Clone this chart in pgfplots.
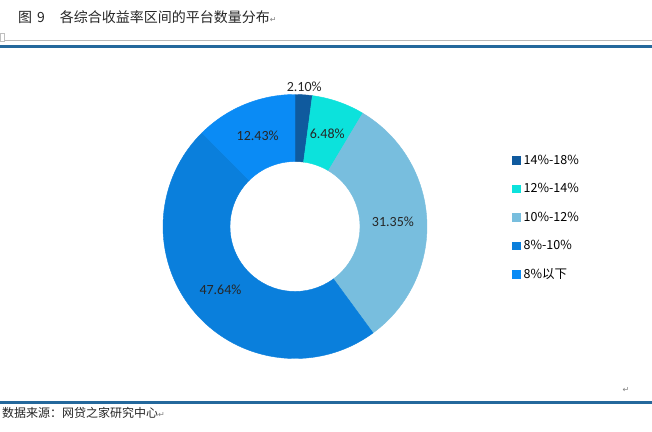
\documentclass[border=0pt]{standalone}
\usepackage{fontspec}
\setmainfont{Noto Sans CJK SC}
\newfontfamily\labelfont{Carlito}
\newfontfamily\symfont{DejaVu Sans}
\usepackage{pgfplots}
\pgfplotsset{compat=1.18}
\usepackage{pgfplotstable}

\definecolor{pie0}{HTML}{0F5A9E}
\definecolor{pie1}{HTML}{0CE2DC}
\definecolor{pie2}{HTML}{78BEDE}
\definecolor{pie3}{HTML}{0A7FDC}
\definecolor{pie4}{HTML}{0A8BF5}
\definecolor{rule}{HTML}{24689C}

% share of platforms per return band (%), start = cumulative share before the slice
\pgfplotstableread{
idx start value lr
0 0.00 2.10 140
1 2.10 6.48 98
2 8.58 31.35 98
3 39.93 47.64 98
4 87.57 12.43 98
}\piedata

\begin{document}
\begin{tikzpicture}
\fill[white] (0,0) rectangle (652bp,432bp);
\begin{axis}[
  at={(0,0)}, anchor=south west,
  scale only axis, width=652bp, height=432bp,
  xmin=0, xmax=652, ymin=0, ymax=432, y dir=reverse,
  hide axis, clip=false,
  legend style={at={(axis cs:512,154.5)}, anchor=north west, draw=none, fill=none,
    inner sep=0pt, row sep=16.5bp, font=\fontsize{12.5bp}{14bp}\selectfont,
    nodes={inner sep=0pt, text height=9.5bp, text depth=2.5bp},
    /tikz/every odd column/.append style={column sep=3bp}},
  legend cell align=left,
  legend image code/.code={\fill[#1] (0bp,-4.25bp) rectangle (8.5bp,4.25bp);},
]
% page decoration
\draw[gray!55, line width=0.8bp] (axis cs:4,40.5) -- (axis cs:652,40.5);
\draw[gray!50, line width=0.6bp] (axis cs:0,33) rectangle (axis cs:4,41);
\draw[rule, line width=2.2bp] (axis cs:0,46.5) -- (axis cs:652,46.5);
\draw[rule, line width=2.2bp] (axis cs:0,402.5) -- (axis cs:652,402.5);
\node[anchor=west, inner sep=0pt, font=\fontsize{14bp}{16bp}\selectfont, text=black!85]
  at (axis cs:18,17) {图\hspace{5bp}9\hspace{15bp}各综合收益率区间的平台数量分布{\color{gray}\symfont\fontsize{8bp}{9bp}\selectfont ↵}};
\node[anchor=west, inner sep=0pt, font=\fontsize{12bp}{14bp}\selectfont, text=black!85]
  at (axis cs:2,413) {数据来源：网贷之家研究中心{\color{gray}\symfont\fontsize{8bp}{9bp}\selectfont ↵}};
\node[inner sep=0pt, text=gray, font=\symfont\fontsize{8bp}{9bp}\selectfont] at (axis cs:626,390) {↵};

% donut slices
\addplot[forget plot, scatter, only marks, mark=text, text mark={},
  point meta=\thisrow{idx},
  visualization depends on={\thisrow{idx}\as\pidx},
  visualization depends on={\thisrow{start}\as\pstart},
  visualization depends on={\thisrow{value}\as\pval},
  visualization depends on={\thisrow{lr}\as\plr},
  scatter/@pre marker code/.code={
    \pgfmathtruncatemacro\ci{\pidx}
    \colorlet{slicecol}{pie\ci}
    \pgfmathsetmacro\aA{90-3.6*\pstart}
    \pgfmathsetmacro\aB{90-3.6*(\pstart+\pval)}
    \pgfmathsetmacro\aM{(\aA+\aB)/2}
    \fill[slicecol] (\aA:132bp) arc[start angle=\aA, end angle=\aB, radius=132bp]
      -- (\aB:65bp) arc[start angle=\aB, end angle=\aA, radius=65bp] -- cycle;
    \node[font=\labelfont\fontsize{14bp}{16bp}\selectfont, text=black!85, inner sep=0pt]
      at (\aM:\plr bp) {\pgfmathprintnumber[fixed, fixed zerofill, precision=2, assume math mode=true]{\pval}\%};
  },
  scatter/@post marker code/.code={},
] table[x expr=295, y expr=226.5] {\piedata};

\addlegendimage{fill=pie0, draw=none}\addlegendentry{14\%-18\%}
\addlegendimage{fill=pie1, draw=none}\addlegendentry{12\%-14\%}
\addlegendimage{fill=pie2, draw=none}\addlegendentry{10\%-12\%}
\addlegendimage{fill=pie3, draw=none}\addlegendentry{8\%-10\%}
\addlegendimage{fill=pie4, draw=none}\addlegendentry{8\%以下}
\end{axis}
\pgfresetboundingbox
\useasboundingbox (0,0) rectangle (652bp,432bp);
\end{tikzpicture}
\end{document}
